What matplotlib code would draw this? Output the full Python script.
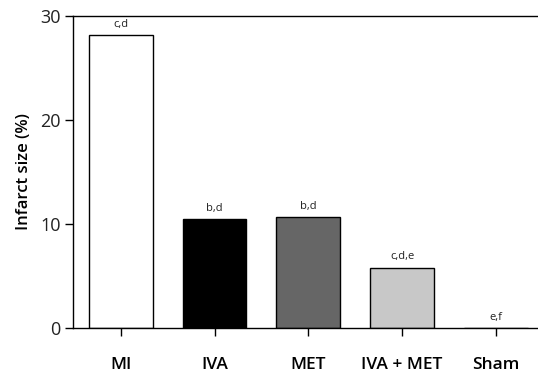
import matplotlib.pyplot as plt
import numpy as np

plt.rcParams['font.family'] = ['Open Sans', 'DejaVu Sans']

groups = ["MI", "IVA", "MET", "IVA + MET", "Sham"]
infarct_size = [28.2, 10.5, 10.7, 5.8, 0.0]
letters = ["c,d", "b,d", "b,d", "c,d,e", "e,f"]
colors = ["white", "black", "#666666", "#c8c8c8", "white"]

x = np.arange(len(groups))

fig = plt.figure(figsize=(5.38, 3.74), dpi=100)
ax = fig.add_axes([0.1357, 0.123, 0.8643, 0.834])

ax.bar(x, infarct_size, width=0.68, color=colors, edgecolor="black", linewidth=1.0)

for xi, yi, lab in zip(x, infarct_size, letters):
    ax.text(xi, yi + 0.5, lab, ha="center", va="bottom", fontsize=8, color="#222222")

ax.set_xlim(-0.51, 4.45)
ax.set_ylim(0, 30)
ax.set_yticks([0, 10, 20, 30])
ax.set_xticks(x)
ax.set_xticklabels(groups, fontweight="semibold", fontsize=12.5)
ax.tick_params(axis="y", labelsize=13, length=6, width=1, direction="out", pad=3,
               labelcolor="#222222")
ax.tick_params(axis="x", length=6, width=1, direction="out", pad=15)
ax.set_ylabel("Infarct size (%)", fontsize=12, fontweight="semibold", labelpad=6)

ax.spines["right"].set_visible(False)
for s in ["left", "bottom", "top"]:
    ax.spines[s].set_linewidth(1.0)

fig.savefig("out.png", dpi=100)
